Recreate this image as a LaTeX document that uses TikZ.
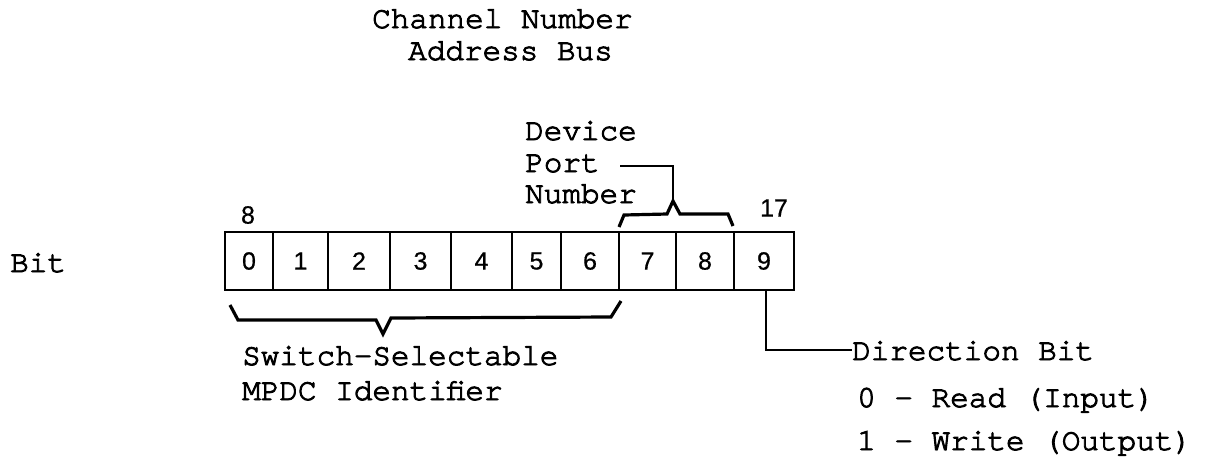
\documentclass[tikz,border=0pt]{standalone}
\usepackage{fontspec}
\setmainfont{texgyrecursor-regular.otf}[FakeBold=3]
\newfontfamily\digitfnt{Liberation Sans}[FakeBold=0.6]
\tikzset{
  txt/.style={inner sep=0pt, anchor=base west, font=\fontsize{31}{34}\selectfont},
  cell/.style={draw, line width=2pt, minimum height=58pt, inner sep=0pt, font=\digitfnt\fontsize{25}{28}\selectfont},
  numlbl/.style={inner sep=0pt, font=\digitfnt\fontsize{25}{28}\selectfont},
  brace/.style={line width=3.2pt, line join=miter},
  leader/.style={line width=1.6pt}
}
\begin{document}
\begin{tikzpicture}[x=1pt,y=-1pt]
\useasboundingbox (0,0) rectangle (1207,459);
% titles
\node[txt] (t1) at (372,28) {Channel Number};
\node[txt] (t2) at (408,60) {Address Bus};
\node[txt] (bit) at (10,272) {Bit};
% device port number
\node[txt] (dev) at (525,140) {Device};
\node[txt] (port) at (525,172) {Port};
\node[txt] (num) at (525,203) {Number};
% cells
\node[cell, minimum width=48pt] (c0) at (249,261) {0};
\node[cell, minimum width=55pt] (c1) at (300.5,261) {1};
\node[cell, minimum width=62pt] (c2) at (359,261) {2};
\node[cell, minimum width=61pt] (c3) at (420.5,261) {3};
\node[cell, minimum width=61pt] (c4) at (481.5,261) {4};
\node[cell, minimum width=49pt] (c5) at (536.5,261) {5};
\node[cell, minimum width=58pt] (c6) at (590,261) {6};
\node[cell, minimum width=57pt] (c7) at (647.5,261) {7};
\node[cell, minimum width=58pt] (c8) at (705,261) {8};
\node[cell, minimum width=60pt] (c9) at (764,261) {9};
% bit numbers
\node[numlbl] (n8) at (248,215) {8};
\node[numlbl] (n17) at (774,208) {17};
% top brace
\coordinate (pl) at (620,166);
\coordinate (pk) at (673,166);
\coordinate (bt) at (673,201);
\draw[leader] (pl) -- (pk) -- (bt);
\draw[brace] (c7.north west) ++(1,-4) -- (624,215) -- (667,214) -- (bt) -- (680,214) -- (728,214) -- (733,226);
% bottom brace
\draw[brace] (230,305) -- (238,320) -- (376,320) -- (383,334) -- (391,318) -- (611,317) -- (621,301);
\node[txt] (sw) at (242,365) {Switch-Selectable};
\node[txt] (mp) at (242,400) {MPDC Identifier};
% direction bit
\node[txt] (dir) at (852,360) {Direction Bit};
\node[txt] (rd) at (857,407) {0 - Read (Input)};
\node[txt] (wr) at (857,450) {1 - Write (Output)};
\coordinate (dc) at (766,350);
\draw[leader] (c9.south) ++(2,0) |- (dir.west |- dc);
\end{tikzpicture}
\end{document}
